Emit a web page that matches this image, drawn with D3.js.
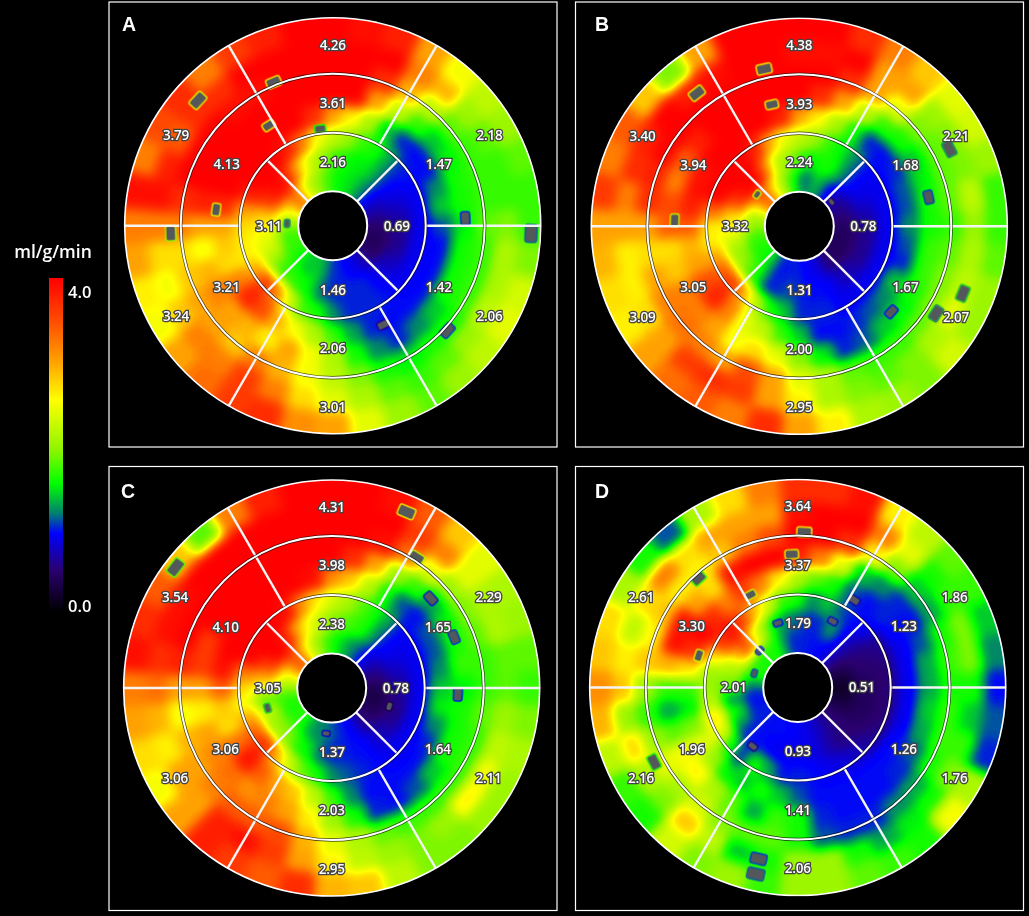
<!DOCTYPE html>
<html>
<head>
<meta charset="utf-8">
<script src="https://cdn.jsdelivr.net/npm/d3@7"></script>
<style>
  body { margin: 0; background: #000; }
  svg { display: block; }
  text { font-family: "Open Sans", sans-serif; fill: #fff; }
</style>
</head>
<body>
<svg id="chart" width="1029" height="916"></svg>
<script>
// flow, rings inner -> outer, 36 sectors clockwise from 12 o'clock
const gridA = [
  [1.6,1.5,1.5,1.4,1.2,1.0,0.8,0.7,0.6,0.5,0.4,0.4,0.4,0.5,0.7,0.9,0.9,1.0,1.0,1.2,1.5,1.3,1.5,1.6,1.7,1.7,1.7,1.9,2.2,2.6,3.0,3.5,2.6,2.2,2.0,1.8],
  [1.7,1.6,1.5,1.5,1.3,1.0,0.9,0.8,0.7,0.6,0.6,0.6,0.7,0.8,0.9,1.0,1.0,1.0,1.0,1.1,1.5,1.6,1.7,1.7,2.0,2.3,2.4,2.6,2.8,3.6,3.9,4,3.6,2.8,2.3,2.0],
  [2.2,2.0,1.7,1.6,1.3,1.0,0.95,0.9,0.9,0.9,0.9,0.9,0.9,0.9,0.95,1.0,1.0,1.0,1.2,1.6,1.7,2.3,3.2,3.6,3.0,2.6,2.6,2.7,3.0,3.8,4,4,4,3.8,3.2,2.5],
  [3.0,2.6,2.1,1.4,1.0,0.95,0.95,1.2,1.4,1.1,0.95,0.95,0.95,0.95,0.95,0.95,1.0,1.3,1.7,2.1,2.5,2.9,3.5,3.8,3.2,2.7,2.8,3.0,3.7,4,4,4,4,4,4,3.7],
  [4,4,3.0,2.2,1.7,1.4,1.5,1.6,1.6,1.5,1.6,1.6,1.6,1.4,1.2,1.0,1.2,1.6,2.1,2.5,3.0,2.6,2.9,3.0,3.2,2.9,2.5,3.0,3.8,4,4,4,4,4,4,4],
  [4,4,3.7,2.9,2.2,1.8,1.7,1.7,1.7,1.8,1.7,1.7,1.7,1.6,1.6,1.5,1.6,1.9,2.2,2.5,2.9,3.2,2.8,3.0,3.0,2.8,2.7,3.2,3.7,4,4,4,3.9,3.9,4,4],
  [4,4,4,3.2,2.9,2.0,1.8,1.7,1.7,1.9,2.1,2.1,2.2,2.0,1.8,1.7,1.8,2.1,2.4,2.7,3.2,3.6,3.2,3.2,2.8,2.5,2.7,3.2,3.9,3.8,3.4,3.7,3.7,4,4,4],
  [4,3.9,3.8,3.0,2.5,2.2,2.0,1.8,1.7,1.7,1.9,2.3,2.4,2.2,2.0,1.8,2.0,2.4,3.0,3.1,3.7,3.6,3.3,3.0,2.5,2.6,3.0,3.2,3.9,3.2,3.5,3.7,3.2,3.6,3.8,4]
];
const gridB = [
  [1.3,1.0,1.5,1.2,0.9,0.8,0.6,0.6,0.5,0.45,0.4,0.4,0.4,0.4,0.5,0.7,0.9,0.9,1.0,1.0,0.95,1.0,1.5,1.6,1.6,1.7,1.7,2.0,2.0,2.4,3.0,3.6,3.0,2.5,2.0,1.7],
  [1.7,1.5,1.6,1.6,1.2,0.95,0.9,0.8,0.7,0.6,0.6,0.6,0.6,0.7,0.7,0.9,0.95,0.95,1.0,1.1,1.0,1.0,1.6,1.8,2.0,2.0,2.3,2.6,2.7,3.5,3.9,4,4,3.2,2.2,2.0],
  [2.2,2.0,1.7,1.5,1.2,0.95,0.9,0.9,0.9,0.9,0.9,0.9,0.9,0.9,0.9,0.9,1.0,1.0,1.0,1.4,1.6,2.2,3.0,3.6,3.4,3.0,2.6,2.6,3.3,4,4,4,4,3.8,3.0,2.4],
  [3.0,2.6,2.1,1.6,1.0,0.95,1.0,1.1,1.1,1.2,1.1,1.0,1.4,1.2,1.1,1.0,0.95,0.95,1.4,1.7,2.2,2.4,3.2,3.8,3.5,3.0,2.9,3.4,3.8,3.9,3.9,4,4,4,4,3.8],
  [4,3.7,3.0,2.2,1.7,1.6,1.4,1.5,1.6,1.6,1.7,1.7,1.6,1.5,1.4,1.1,1.0,1.5,1.9,2.4,2.7,2.5,3.0,3.2,3.2,2.8,2.7,3.4,3.5,3.2,3.4,3.8,4,4,4,4],
  [4,4,3.7,3.0,2.4,1.9,1.8,1.8,1.8,1.7,1.8,1.9,1.9,1.8,1.7,1.7,1.8,2.1,2.4,3.0,3.5,3.0,3.2,3.3,3.2,3.0,2.7,3.0,3.7,3.8,4,4,4,4,4,4],
  [3.9,3.9,4,3.0,3.0,2.0,1.9,1.9,2.2,2.0,2.1,2.2,2.4,2.1,1.9,1.8,1.9,2.1,2.6,3.0,3.6,3.7,3.6,3.0,2.7,2.6,2.6,3.0,3.2,3.7,3.8,4,3.8,3.9,4,4],
  [4,4,3.7,3.2,2.8,2.4,2.3,2.0,1.7,1.7,1.8,2.0,2.0,2.3,1.9,2.0,2.1,2.6,3.0,3.7,3.2,3.4,3.3,3.0,2.6,2.7,2.9,3.0,3.6,3.2,3.4,2.8,1.9,3.0,4,4]
];
const gridC = [
  [1.6,1.5,1.3,1.2,1.0,0.9,0.7,0.6,0.5,0.4,0.3,0.35,0.4,0.5,0.6,0.9,0.95,1.0,1.1,1.2,1.2,1.3,1.6,1.7,1.6,1.6,1.7,1.9,2.3,2.6,3.2,3.6,3.0,2.4,2.1,1.8],
  [1.9,1.8,1.7,1.6,1.2,0.95,0.9,0.8,0.7,0.6,0.6,0.55,0.6,0.7,0.8,0.95,0.95,1.0,1.0,1.1,1.5,1.6,1.9,2.0,2.0,2.2,1.7,2.4,3.0,3.6,4,4,3.7,2.9,2.5,2.2],
  [2.3,2.1,1.8,1.6,1.3,0.95,0.9,0.9,0.9,0.9,0.9,0.9,0.9,0.9,0.9,0.95,1.0,1.1,1.2,1.6,1.8,2.3,3.0,3.7,3.4,3.0,2.5,2.7,3.2,4,4,4,4,3.9,3.1,2.6],
  [3.1,2.8,2.2,1.6,1.1,0.95,1.1,1.1,1.2,1.4,1.5,1.2,1.0,0.95,0.95,0.95,0.95,1.2,1.7,2.2,2.8,3.0,3.4,3.9,3.3,2.7,2.8,3.4,3.9,4,4,4,4,4,4,3.9],
  [4,3.7,3.0,2.0,1.7,1.3,1.5,1.6,1.7,1.5,1.6,1.6,1.6,1.4,1.1,0.95,1.0,1.6,2.0,2.6,3.0,3.2,3.1,3.3,3.2,3.0,2.6,3.0,3.6,3.6,4,4,4,4,4,4],
  [4,4,3.9,3.3,2.4,2.0,1.9,1.8,1.7,1.7,1.8,1.7,1.7,1.7,1.7,1.7,1.8,2.1,2.4,2.9,3.5,3.4,3.4,3.2,3.0,2.9,2.5,3.0,3.8,4,4,4,4,4,4,4],
  [4,4,4,3.6,3.2,2.4,2.1,2.1,1.8,1.8,2.0,2.2,2.5,2.6,2.0,1.9,2.0,2.2,2.6,3.0,3.6,3.9,3.8,3.0,3.0,2.6,2.9,3.3,3.7,3.9,3.9,4,4,4,4,4],
  [4,4,3.9,3.4,2.8,2.4,2.1,2.0,1.8,1.7,1.9,2.1,2.0,2.0,1.9,1.9,2.2,2.8,2.9,3.7,3.4,3.6,3.8,3.0,2.5,2.7,3.0,3.2,3.9,3.7,3.4,2.8,1.8,3.2,3.8,4]
];
const gridD = [
  [1.0,1.0,0.95,0.95,0.9,0.7,0.5,0.35,0.25,0.15,0.2,0.3,0.4,0.5,0.6,0.7,0.8,0.9,0.9,0.95,0.95,0.95,0.95,1.0,1.0,0.95,0.95,1.1,1.4,1.7,1.6,1.6,1.6,1.7,1.4,1.0],
  [1.1,1.0,1.0,1.3,0.95,0.7,0.55,0.5,0.45,0.4,0.4,0.4,0.45,0.5,0.55,0.65,0.8,0.9,0.9,0.9,0.9,0.95,0.95,1.0,1.3,1.6,1.2,1.7,2.0,2.2,3.0,3.6,2.5,2.0,1.4,1.2],
  [1.6,1.2,1.4,1.1,0.95,0.9,0.6,0.55,0.5,0.5,0.5,0.5,0.55,0.65,0.75,0.85,0.9,0.95,1.0,0.95,1.3,1.6,1.0,1.6,2.4,2.7,2.2,2.0,2.0,2.6,3.6,3.9,3.6,2.9,2.3,1.7],
  [2.1,1.8,1.6,1.1,0.95,1.0,0.95,0.9,0.9,0.9,0.9,0.9,0.95,0.95,0.95,0.95,0.95,0.95,1.1,1.4,1.6,1.4,1.5,2.0,2.4,1.9,1.5,1.7,2.7,3.7,4,3.7,3.2,3.6,3.2,2.6],
  [3.8,3.2,2.4,1.4,1.2,1.0,0.95,1.1,1.3,1.3,1.4,1.3,1.1,1.0,0.95,0.95,0.95,1.0,1.6,1.7,1.3,1.8,2.1,2.6,2.5,1.8,1.3,1.7,2.9,3.9,3.9,3.0,2.7,3.9,4,4],
  [4,4,3.7,2.6,1.9,1.4,1.3,1.6,1.7,1.6,1.7,1.7,1.6,1.3,1.2,1.0,1.0,1.1,1.6,1.8,1.8,1.9,2.3,2.1,2.4,2.0,1.7,2.0,2.8,2.6,2.8,2.6,2.6,2.8,3.2,3.5],
  [3.9,4,4,3.2,2.4,1.6,1.7,1.9,1.9,1.6,1.4,1.7,1.9,1.6,1.5,1.3,1.6,2.0,2.0,1.6,1.4,2.2,2.8,1.9,2.1,2.7,2.0,2.8,2.6,2.2,2.7,3.2,2.7,3.0,3.0,3.0],
  [3.7,3.7,3.9,2.6,2.2,1.8,1.7,1.4,1.2,0.95,1.1,1.0,2.1,2.5,1.6,1.7,1.8,2.0,2.0,1.7,2.0,1.9,2.3,1.6,1.7,2.2,2.9,3.1,2.8,2.7,2.1,1.6,1.1,2.1,2.7,3.2]
];

// segment averages, clockwise from the top
const outerA = ["4.26","2.18","2.06","3.01","3.24","3.79"];
const midA = ["3.61","1.47","1.42","2.06","3.21","4.13"];
const innerA = ["2.16","0.69","1.46","3.11"];
const outerB = ["4.38","2.21","2.07","2.95","3.09","3.40"];
const midB = ["3.93","1.68","1.67","2.00","3.05","3.94"];
const innerB = ["2.24","0.78","1.31","3.32"];
const outerC = ["4.31","2.29","2.11","2.95","3.06","3.54"];
const midC = ["3.98","1.65","1.64","2.03","3.06","4.10"];
const innerC = ["2.38","0.78","1.37","3.05"];
const outerD = ["3.64","1.86","1.76","2.06","2.16","2.61"];
const midD = ["3.37","1.23","1.26","1.41","1.96","3.30"];
const innerD = ["1.79","0.51","0.93","2.01"];

// gray artefacts: [angle in degrees, fraction of the outer radius]
const spotsA = [[312.9,.885],[337.6,.746],[327.4,.572],[352.6,.47],[277.9,.566],[267.3,.78],[86.8,.638],[92.2,.954],[153,.534],[132.4,.746],[272.9,.22]];
const spotsB = [[322.4,.807],[347.4,.775],[347.3,.6],[307.1,.254],[272.7,.6],[53,.194],[77.3,.637],[62.7,.812],[112.3,.85],[122.5,.78],[132.9,.604]];
const spotsC = [[23,.92],[307.7,.949],[33,.748],[47.8,.642],[67.4,.637],[92.9,.607],[107.6,.29],[187,.22],[252.7,.323]];
const spotsD = [[2.4,.748],[357.4,.641],[332.9,.5],[317.7,.708],[287.9,.5],[32.8,.5],[27.8,.36],[342.8,.324],[288.2,.22],[314,.255],[217.5,.356],[242.6,.778],[192.9,.845],[192.7,.919]];

const stopValues = [0,0.5,0.94,1.18,1.54,1.95,2.54,2.98,3.46,4];
const stopColors = ["#000000","#2a0070","#0000ff","#007f70","#00ff00","#90f500","#ffff00","#ffa500","#ff5000","#ff0000"];

const panels = [
  {name:"A", grid:gridA, outer:outerA, mid:midA, inner:innerA, spots:spotsA, cx:332.7, cy:225.7, box:[109,2,448,445], lx:122, ly:31},
  {name:"B", grid:gridB, outer:outerB, mid:midB, inner:innerB, spots:spotsB, cx:799.3, cy:226.3, box:[575.5,2,448,445], lx:595, ly:31},
  {name:"C", grid:gridC, outer:outerC, mid:midC, inner:innerC, spots:spotsC, cx:331.7, cy:688, box:[109,466.5,448,444], lx:121, ly:498},
  {name:"D", grid:gridD, outer:outerD, mid:midD, inner:innerD, spots:spotsD, cx:797.7, cy:687.5, box:[575.5,466.5,448,444], lx:595, ly:498}
];

const svg = d3.select("#chart");
svg.append("rect").attr("width",1029).attr("height",916).attr("fill","#000");
const defs = svg.append("defs");

const R = 208, R0 = 34.5, R1 = 93, R2 = 152;
const color = d3.scaleLinear().domain(stopValues).range(stopColors).clamp(true);
const gray = d3.scaleLinear().domain([0,4]).range([0,255]).clamp(true);
const angle = d3.scaleBand().domain(d3.range(36)).range([-Math.PI/36, 2*Math.PI-Math.PI/36]);
const ring = d3.scaleBand().domain(d3.range(8)).range([R0,R]);
const radius = d3.scaleLinear().domain([0,1]).range([0,R]);
const rad = d => d*Math.PI/180;

// blur the value field as gray and colour afterwards, so the blends stay on the colour bar
const tableV = d3.range(256).map(i => d3.rgb(color(i/255*4)));
const filter = defs.append("filter").attr("id","flow")
  .attr("filterUnits","userSpaceOnUse")
  .attr("x",-260).attr("y",-260).attr("width",520).attr("height",520)
  .attr("color-interpolation-filters","sRGB");
filter.append("feGaussianBlur").attr("stdDeviation",6);
const ct = filter.append("feComponentTransfer");
[["R","r"],["G","g"],["B","b"]].forEach(ch => {
  ct.append("feFunc"+ch[0]).attr("type","table")
    .attr("tableValues", tableV.map(c => (c[ch[1]]/255).toFixed(3)).join(" "));
});

const soft = defs.append("filter").attr("id","soft");
soft.append("feGaussianBlur").attr("stdDeviation",0.5);

const annulus = d3.arc().innerRadius(R0).outerRadius(R).startAngle(0).endAngle(2*Math.PI);
defs.append("clipPath").attr("id","disc").append("path").attr("d",annulus());

// value under a spot, used for its halo
function localValue(grid, deg, frac){
  const rr = Math.min(7, Math.max(0, Math.round((radius(frac)-R0)/ring.bandwidth()-0.5)));
  return grid[rr][Math.round(deg/10)%36];
}

function drawPanel(p){
  svg.append("rect")
    .attr("x",p.box[0]).attr("y",p.box[1]).attr("width",p.box[2]).attr("height",p.box[3])
    .attr("fill","none").attr("stroke","#fff").attr("stroke-width",1.2);

  const g = svg.append("g").attr("transform",`translate(${p.cx},${p.cy})`);
  const cells = [];
  p.grid.forEach((row,i) => row.forEach((v,k) => cells.push({i,k,v})));

  const arc = d3.arc()
    .innerRadius(d => d.i===0 ? 0 : ring(d.i))
    .outerRadius(d => d.i===7 ? R+40 : ring(d.i)+ring.bandwidth())
    .startAngle(d => angle(d.k))
    .endAngle(d => angle(d.k)+angle.bandwidth());

  g.append("g").attr("clip-path","url(#disc)")
    .append("g").attr("filter","url(#flow)")
    .selectAll("path").data(cells).enter().append("path")
    .attr("d",arc)
    .attr("fill",d => d3.rgb(gray(d.v),gray(d.v),gray(d.v)))
    .attr("stroke",d => d3.rgb(gray(d.v),gray(d.v),gray(d.v)))
    .attr("stroke-width",1);

  g.append("g").attr("filter","url(#soft)").selectAll("rect.spot").data(p.spots).enter().append("rect")
    .attr("class","spot")
    .each(function(d){
      const len = 3.5+13*d[1], wid = len*0.62;
      d3.select(this)
        .attr("x",-len/2).attr("y",-wid/2).attr("width",len).attr("height",wid).attr("rx",1.5)
        .attr("transform",`rotate(${d[0]-90}) translate(${radius(d[1])},0) rotate(90)`)
        .attr("fill","#54585a")
        .attr("stroke",color(localValue(p.grid,d[0],d[1])*0.62))
        .attr("stroke-opacity",0.8)
        .attr("stroke-width",3.4)
        .attr("stroke-linejoin","round")
        .attr("paint-order","stroke");
    });

  // dividers
  const spoke = (a,r0,r1,w) => g.append("line")
    .attr("x1",r0*Math.sin(rad(a))).attr("y1",-r0*Math.cos(rad(a)))
    .attr("x2",r1*Math.sin(rad(a))).attr("y2",-r1*Math.cos(rad(a)))
    .attr("stroke","#f4f4f4").attr("stroke-width",w);
  d3.range(30,360,60).forEach(a => spoke(a,R1,R,2.4));
  d3.range(45,360,90).forEach(a => spoke(a,R0,R1,2.4));

  const circle = (r,w,c,o) => g.append("circle").attr("r",r).attr("fill","none")
    .attr("stroke",c||"#fff").attr("stroke-width",w).attr("stroke-opacity",o||1);
  circle(R,1.6);
  circle(R2,3.4,"#000",0.7); circle(R2,2);
  circle(R1,3.4,"#000",0.7); circle(R1,2);
  circle(R0,2);

  const labels = [];
  p.outer.forEach((t,i) => labels.push({t,a:i*60,r:181}));
  p.mid.forEach((t,i) => labels.push({t,a:i*60,r:122.5}));
  p.inner.forEach((t,i) => labels.push({t,a:i*90,r:64}));
  g.selectAll("text.val").data(labels).enter().append("text")
    .attr("class","val")
    .attr("x",d => d.r*Math.sin(rad(d.a)))
    .attr("y",d => -d.r*Math.cos(rad(d.a)))
    .attr("dy","0.36em")
    .attr("text-anchor","middle")
    .attr("font-size",13.5).attr("font-weight",600)
    .attr("letter-spacing",-0.2)
    .attr("stroke","#444").attr("stroke-width",2.6).attr("paint-order","stroke")
    .text(d => d.t);

  svg.append("text").attr("x",p.lx).attr("y",p.ly)
    .style("font-family","'Liberation Sans'").attr("font-size",19.5).attr("font-weight",700)
    .text(p.name);
}
panels.forEach(drawPanel);

// colour bar
const barY = d3.scaleLinear().domain([0,4]).range([612,278]);
const grad = defs.append("linearGradient").attr("id","bar")
  .attr("x1",0).attr("y1",1).attr("x2",0).attr("y2",0);
stopValues.forEach((v,i) => grad.append("stop").attr("offset",v/4).attr("stop-color",stopColors[i]));
svg.append("rect").attr("x",49).attr("y",barY(4)).attr("width",14).attr("height",barY(0)-barY(4)).attr("fill","url(#bar)");
svg.append("text").attr("x",53).attr("y",258).attr("text-anchor","middle")
  .attr("font-size",17.5).attr("font-weight",600).text("ml/g/min");
svg.append("text").attr("x",68).attr("y",298).attr("font-size",16.5).attr("font-weight",600).text("4.0");
svg.append("text").attr("x",68).attr("y",612).attr("font-size",16.5).attr("font-weight",600).text("0.0");
</script>
</body>
</html>
